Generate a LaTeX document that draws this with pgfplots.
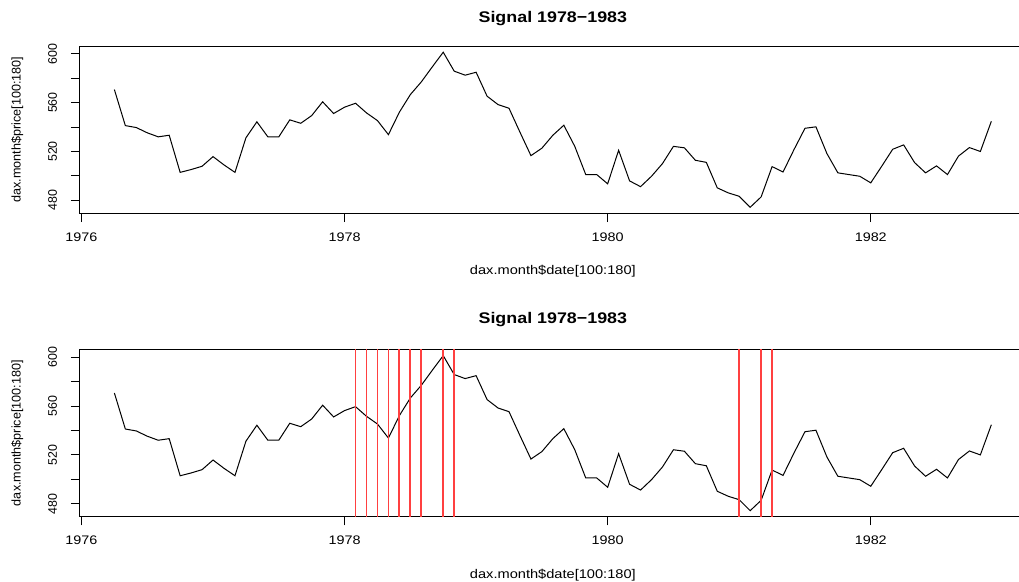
\documentclass[border=0pt]{standalone}
\usepackage{fontspec}
\setmainfont{Liberation Sans}
\usepackage{graphicx}
\usepackage{pgfplots}
\usepackage{pgfplotstable}
\pgfplotsset{compat=1.18}

% the reference is stretched sideways, so text is widened a little
\newcommand{\hs}[1]{\scalebox{1.16}[1]{#1}}

\pgfplotstableread{
date      price
1976.2500 570.7
1976.3333 541.2
1976.4167 539.6
1976.5000 535.3
1976.5833 532.0
1976.6667 533.3
1976.7500 502.9
1976.8333 505.2
1976.9167 507.9
1977.0000 515.8
1977.0833 509.0
1977.1667 502.9
1977.2500 531.2
1977.3333 544.3
1977.4167 532.0
1977.5000 532.0
1977.5833 545.9
1977.6667 543.1
1977.7500 549.4
1977.8333 560.7
1977.9167 551.1
1978.0000 556.3
1978.0833 559.5
1978.1667 551.6
1978.2500 545.3
1978.3333 533.8
1978.4167 552.2
1978.5000 566.6
1978.5833 577.0
1978.6667 589.3
1978.7500 601.3
1978.8333 585.8
1978.9167 582.5
1979.0000 584.9
1979.0833 565.3
1979.1667 558.4
1979.2500 555.4
1979.3333 535.8
1979.4167 516.6
1979.5000 522.7
1979.5833 533.3
1979.6667 541.5
1979.7500 524.2
1979.8333 501.1
1979.9167 501.1
1980.0000 493.5
1980.0833 521.0
1980.1667 495.9
1980.2500 491.2
1980.3333 499.7
1980.4167 510.1
1980.5000 524.2
1980.5833 523.0
1980.6667 512.8
1980.7500 511.1
1980.8333 490.2
1980.9167 486.1
1981.0000 483.3
1981.0833 474.3
1981.1667 482.8
1981.2500 507.6
1981.3333 503.2
1981.4167 521.6
1981.5000 539.0
1981.5833 540.2
1981.6667 518.3
1981.7500 502.5
1981.8333 501.1
1981.9167 499.7
1982.0000 494.3
1982.0833 507.9
1982.1667 521.8
1982.2500 525.4
1982.3333 510.9
1982.4167 502.5
1982.5000 508.2
1982.5833 501.1
1982.6667 516.2
1982.7500 523.2
1982.8333 520.0
1982.9167 544.7
}\dax

% dates marked in the second panel, each as one vertical segment
\pgfplotstableread{
date      y
1978.0833 469.2
1978.0833 606.4
1978.0833 nan
1978.1667 469.2
1978.1667 606.4
1978.1667 nan
1978.2500 469.2
1978.2500 606.4
1978.2500 nan
1978.3333 469.2
1978.3333 606.4
1978.3333 nan
1978.4167 469.2
1978.4167 606.4
1978.4167 nan
1978.5000 469.2
1978.5000 606.4
1978.5000 nan
1978.5833 469.2
1978.5833 606.4
1978.5833 nan
1978.7500 469.2
1978.7500 606.4
1978.7500 nan
1978.8333 469.2
1978.8333 606.4
1978.8333 nan
1981.0000 469.2
1981.0000 606.4
1981.0000 nan
1981.1667 469.2
1981.1667 606.4
1981.1667 nan
1981.2500 469.2
1981.2500 606.4
}\marks

\pgfplotsset{rplot/.style={
    scale only axis,
    width=947.1pt, height=167.5pt,
    xmin=1975.9833, xmax=1983.1833,
    ymin=469.2, ymax=606.4,
    axis line style={black, line width=0.9pt},
    every tick/.style={black, line width=0.9pt},
    tick align=outside, tick pos=left,
    major tick length=8.5pt,
    xtick={1976,1978,1980,1982},
    xticklabels={\hs{1976},\hs{1978},\hs{1980},\hs{1982}},
    ytick={480,500,520,540,560,580,600},
    yticklabels={480,,520,,560,,600},
    xticklabel style={font=\fontsize{12.4}{14}\selectfont, anchor=center, yshift=-15pt},
    yticklabel style={font=\fontsize{12.4}{14}\selectfont, xshift=-18.1pt, rotate=90, anchor=center},
    xlabel={\hs{dax.month\$date[100:180]}},
    ylabel={dax.month\$price[100:180]},
    title={\hs{Signal 1978−1983}},
    xlabel style={font=\fontsize{12.6}{15}\selectfont, at={(axis description cs:0.5,-0.345)}, anchor=center},
    ylabel style={font=\fontsize{12.6}{15}\selectfont, at={(axis description cs:-0.0655,0.5)}, anchor=center},
    title style={font=\fontsize{15.4}{18}\selectfont\bfseries, anchor=center},
}}

\begin{document}
\begin{tikzpicture}[x=1pt,y=1pt]
\clip (0,0) rectangle (1019,-581);
\useasboundingbox (0,0) rectangle (1019,-581);

\begin{axis}[rplot, at={(79.3pt,-46pt)}, anchor=north west,
    title style={at={(axis description cs:0.5,1.131)}}]
    \addplot[black, line width=1pt] table[x=date, y=price] {\dax};
\end{axis}

\begin{axis}[rplot, at={(79.3pt,-349.4pt)}, anchor=north west,
    title style={at={(axis description cs:0.5,1.145)}}]
    \addplot[black, line width=1pt] table[x=date, y=price] {\dax};
    \addplot[red!75, line width=1.8pt, unbounded coords=jump] table[x=date, y=y] {\marks};
\end{axis}
\end{tikzpicture}
\end{document}
